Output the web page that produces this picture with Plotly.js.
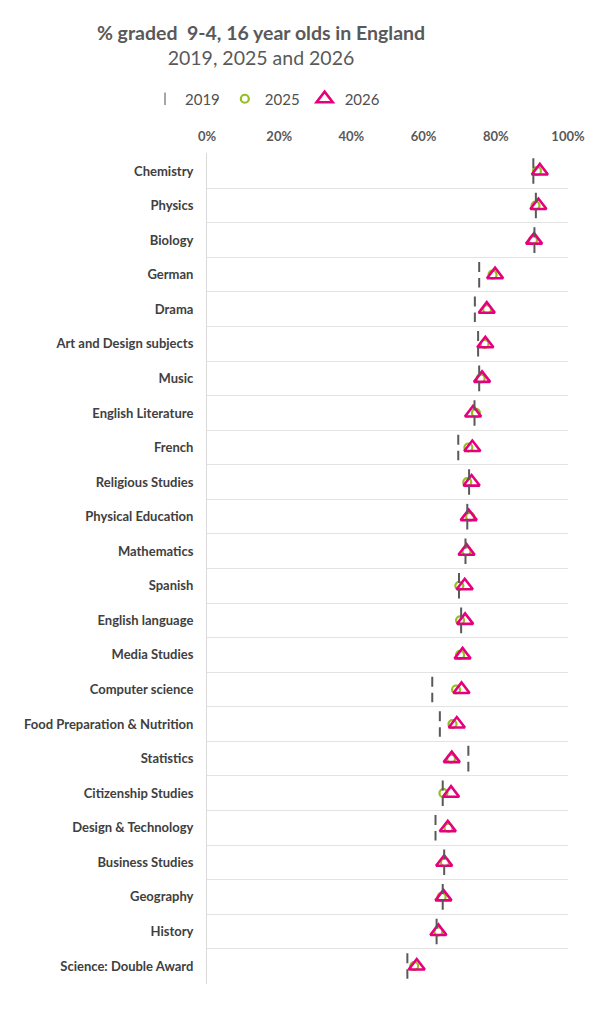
<!DOCTYPE html>
<html>
<head>
<meta charset="utf-8">
<script src="https://cdn.plot.ly/plotly-3.0.1.min.js"></script>
<style>
  html, body { margin: 0; padding: 0; background: #fff; }
  #chart { width: 605px; height: 1024px; }
</style>
</head>
<body>
<div id="chart"></div>
<script>
const subjects = [
    'Chemistry', 'Physics', 'Biology', 'German', 'Drama',
    'Art and Design subjects', 'Music', 'English Literature', 'French',
    'Religious Studies', 'Physical Education', 'Mathematics', 'Spanish',
    'English language', 'Media Studies', 'Computer science',
    'Food Preparation & Nutrition', 'Statistics', 'Citizenship Studies',
    'Design & Technology', 'Business Studies', 'Geography', 'History',
    'Science: Double Award'
];
// no 2019 figure shown for Media Studies
const pct2019 = [90.4, 91.1, 90.7, 75.4, 74.2, 75.1, 75.4, 74.1, 69.6, 72.6, 72.1, 71.6,
                 69.8, 70.4, null, 62.4, 64.5, 72.4, 65.3, 63.3, 65.7, 65.3, 63.6, 55.5];
const pct2025 = [91.4, 91.0, 90.3, 79.1, 77.6, 76.9, 75.8, 74.5, 72.4, 72.1, 72.9, 71.9,
                 69.9, 70.1, 70.1, 69.0, 68.0, 67.6, 65.5, 66.9, 65.9, 65.0, 64.1, 57.4];
const pct2026 = [92.2, 91.8, 90.6, 79.8, 77.5, 77.1, 76.2, 73.7, 73.5, 73.3, 72.5, 71.9,
                 71.4, 71.5, 70.8, 70.5, 69.2, 67.8, 67.6, 66.7, 65.7, 65.5, 64.1, 58.1];
const xTicks = [0, 20, 40, 60, 80, 100];
const xTickLabels = ['0%', '20%', '40%', '60%', '80%', '100%'];

const FONT = 'Lato, "Open Sans", sans-serif';
const GREY = '#595959';
const GREEN = '#92c01f';
const PINK = '#e6007e';

// row positions: 0 at the top
const rows = subjects.map((s, i) => i);

// 2019 is drawn as a short dashed vertical stroke across each row
const dashX = [], dashY = [];
pct2019.forEach((v, i) => {
    if (v === null) return;
    dashX.push(v, v, null);
    dashY.push(i - 0.37, i + 0.37, null);
});

// legend entry only (the real 2019 marks are the dashed strokes below)
const trace2019Legend = {
    x: [null], y: [null],
    type: 'scatter', mode: 'markers',
    name: '2019',
    legendgroup: '2019',
    marker: { symbol: 'line-ns', size: 9, line: { color: '#a6a6a6', width: 2 } },
    hoverinfo: 'skip'
};

const trace2019 = {
    x: dashX, y: dashY,
    type: 'scatter', mode: 'lines',
    name: '2019',
    legendgroup: '2019',
    showlegend: false,
    line: { color: '#595959', width: 2, dash: '10px,6px' },
    hoverinfo: 'skip'
};

const trace2025 = {
    x: pct2025, y: rows,
    type: 'scatter', mode: 'markers',
    name: '2025',
    marker: { symbol: 'circle-open', size: 8, color: GREEN, line: { color: GREEN, width: 2.2 } },
    hovertemplate: '%{x:.1f}%<extra>2025</extra>'
};

const trace2026 = {
    x: pct2026, y: rows,
    type: 'scatter', mode: 'markers',
    name: '2026',
    marker: { symbol: 'triangle-up-open', size: 14, color: PINK, line: { color: PINK, width: 2.6 } },
    hovertemplate: '%{x:.1f}%<extra>2026</extra>'
};

// boundaries between rows
const rowEdges = [];
for (let i = -1; i < subjects.length; i++) rowEdges.push(i + 0.5);

const layout = {
    width: 605,
    height: 1024,
    paper_bgcolor: '#ffffff',
    plot_bgcolor: '#ffffff',
    margin: { l: 207, r: 37, t: 153, b: 40 },
    font: { family: FONT, color: GREY },
    title: {
        text: '<b>% graded  9-4, 16 year olds in England</b><br>2019, 2025 and 2026',
        font: { family: FONT, size: 19.5, color: GREY },
        x: 261 / 605, xref: 'container', xanchor: 'center',
        y: 1 - 40 / 1024, yref: 'container', yanchor: 'middle'
    },
    showlegend: true,
    legend: {
        orientation: 'h',
        x: 265 / 605, xref: 'container', xanchor: 'center',
        y: 1 - 99 / 1024, yref: 'container', yanchor: 'middle',
        font: { family: FONT, size: 15, color: '#505050' },
        itemwidth: 30,
        tracegroupgap: 0
    },
    xaxis: {
        side: 'top',
        range: [0, 100],
        tickvals: xTicks,
        ticktext: xTickLabels,
        showgrid: false,
        zeroline: false,
        showline: false,
        ticks: '',
        ticklabelstandoff: 8,
        tickfont: { family: FONT, size: 13, color: GREY, weight: 'bold' },
        fixedrange: true
    },
    yaxis: {
        range: [23.52, -0.52],
        tickvals: rows,
        ticktext: subjects,
        ticks: '',
        ticklabelstandoff: 10,
        showgrid: false,
        zeroline: false,
        showline: true,
        linecolor: '#d9d9d9',
        linewidth: 1,
        tickfont: { family: FONT, size: 13, color: '#404040', weight: 'bold' },
        minor: {
            tickmode: 'array',
            tickvals: rowEdges,
            showgrid: true,
            gridcolor: '#e3e3e3',
            gridwidth: 1.3,
            ticks: ''
        },
        fixedrange: true
    }
};

const config = { displayModeBar: false, responsive: false };

Plotly.newPlot('chart', [trace2019Legend, trace2025, trace2026, trace2019], layout, config);
</script>
</body>
</html>
